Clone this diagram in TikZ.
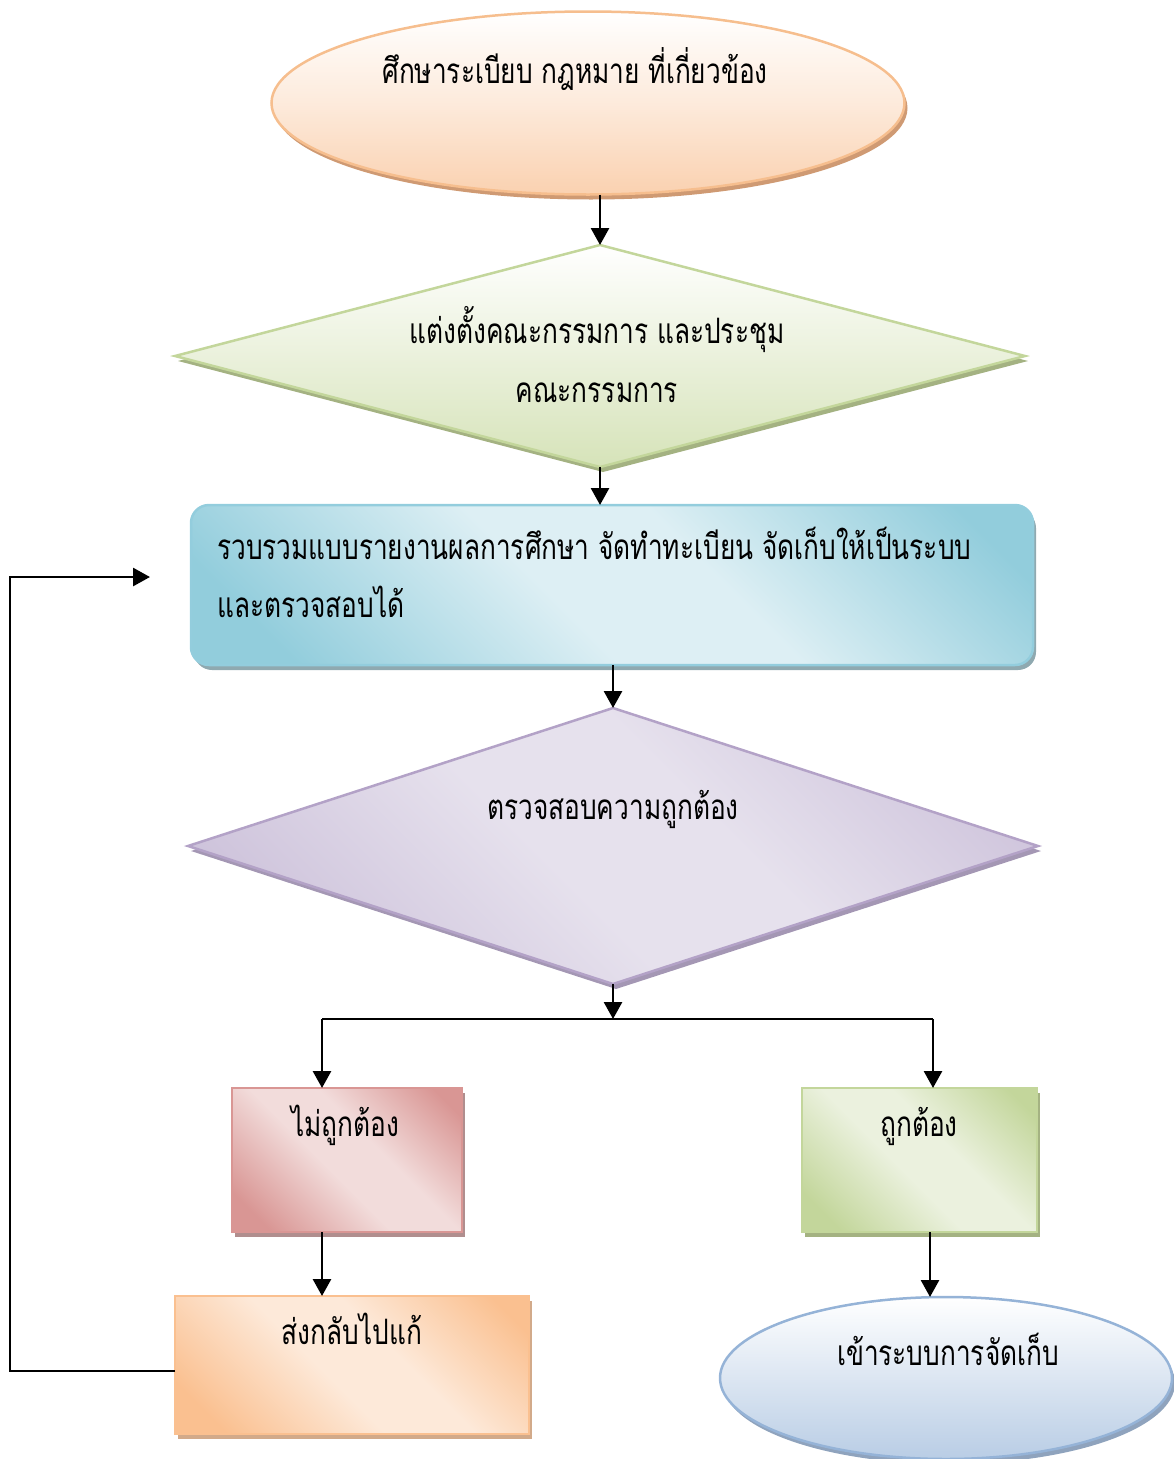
\documentclass[tikz,border=0pt]{standalone}
\usepackage{fontspec}
\newfontfamily\thaifont[Script=Thai,FakeStretch=0.75]{Loma}
\usetikzlibrary{shapes.geometric,shadows,arrows.meta}

% palette
\definecolor{peachLine}{HTML}{F6BE8E}
\definecolor{peachFill}{HTML}{FAD1B0}
\definecolor{peachShade}{HTML}{CF9A73}
\definecolor{greenLine}{HTML}{C3D69B}
\definecolor{greenFill}{HTML}{D6E3B9}
\definecolor{greenShade}{HTML}{A4B282}
\definecolor{blueLine}{HTML}{93CDDD}
\definecolor{blueDark}{HTML}{92CDDC}
\definecolor{blueLight}{HTML}{DDEFF4}
\definecolor{blueShade}{HTML}{8FA9B0}
\definecolor{purpleLine}{HTML}{B3A2C7}
\definecolor{purpleDark}{HTML}{CCC1DA}
\definecolor{purpleLight}{HTML}{E6E1ED}
\definecolor{purpleShade}{HTML}{A497B4}
\definecolor{pinkLine}{HTML}{D99694}
\definecolor{pinkDark}{HTML}{D99694}
\definecolor{pinkLight}{HTML}{F2DCDB}
\definecolor{pinkShade}{HTML}{B08E8E}
\definecolor{orangeLine}{HTML}{FAC090}
\definecolor{orangeDark}{HTML}{FAC090}
\definecolor{orangeLight}{HTML}{FDE9D9}
\definecolor{orangeShade}{HTML}{D2AA8A}
\definecolor{limeDark}{HTML}{C3D69B}
\definecolor{limeLight}{HTML}{EBF1DE}
\definecolor{skyLine}{HTML}{95B3D7}
\definecolor{skyFill}{HTML}{B9CDE5}
\definecolor{skyShade}{HTML}{8FA3BD}

% diagonal bands: dark corners, soft light middle
\pgfdeclarehorizontalshading{bluediag}{100bp}{color(0bp)=(blueDark); color(22bp)=(blueDark); color(45bp)=(blueLight); color(58bp)=(blueLight); color(80bp)=(blueDark); color(100bp)=(blueDark)}
\pgfdeclarehorizontalshading{purplediag}{100bp}{color(0bp)=(purpleDark); color(22bp)=(purpleDark); color(45bp)=(purpleLight); color(58bp)=(purpleLight); color(80bp)=(purpleDark); color(100bp)=(purpleDark)}
\pgfdeclarehorizontalshading{pinkdiag}{100bp}{color(0bp)=(pinkDark); color(22bp)=(pinkDark); color(45bp)=(pinkLight); color(58bp)=(pinkLight); color(80bp)=(pinkDark); color(100bp)=(pinkDark)}
\pgfdeclarehorizontalshading{orangediag}{100bp}{color(0bp)=(orangeDark); color(22bp)=(orangeDark); color(45bp)=(orangeLight); color(58bp)=(orangeLight); color(80bp)=(orangeDark); color(100bp)=(orangeDark)}
\pgfdeclarehorizontalshading{limediag}{100bp}{color(0bp)=(limeDark); color(22bp)=(limeDark); color(45bp)=(limeLight); color(58bp)=(limeLight); color(80bp)=(limeDark); color(100bp)=(limeDark)}

\tikzset{
  shapebox/.style={inner sep=0pt, outer sep=0pt, line width=2.5pt},
  caption/.style={inner sep=0pt, font=\thaifont\fontsize{35}{40}\selectfont, text=black},
  arr/.style={line width=2.8pt, -{Triangle[width=18pt,length=17pt]}},
  link/.style={line width=2.8pt},
  shadowof/.style={drop shadow={shadow xshift=3pt, shadow yshift=-5pt, fill=#1, opacity=1}},
}

\begin{document}
\begin{tikzpicture}[x=1pt, y=-1pt]
\useasboundingbox (0,0) rectangle (1174,1459);

% start: study regulations
\node[shapebox, ellipse, minimum width=633pt, minimum height=183pt,
      draw=peachLine, top color=white, bottom color=peachFill, middle color=peachFill!45,
      shadowof=peachShade] (e1) at (588,103) {};
\node[caption, anchor=base] (t1) at (575,83) {ศึกษาระเบียบ กฎหมาย ที่เกี่ยวข้อง};

% committee decision
\node[shapebox, diamond, minimum width=850pt, minimum height=222pt,
      draw=greenLine, top color=white, bottom color=greenFill,
      shadowof=greenShade] (d1) at (600,356) {};
\node[caption, anchor=base] (t2a) at (597,343) {แต่งตั้งคณะกรรมการ และประชุม};
\node[caption, anchor=base] (t2b) at (597,402) {คณะกรรมการ};

% collect reports
\node[shapebox, rectangle, rounded corners=18pt, minimum width=842pt, minimum height=160pt,
      draw=blueLine, shading=bluediag, shading angle=45,
      shadowof=blueShade] (r1) at (612,585) {};
\node[caption, anchor=base west] (t3a) at (217,559) {รวบรวมแบบรายงานผลการศึกษา จัดทำทะเบียน จัดเก็บให้เป็นระบบ};
\node[caption, anchor=base west] (t3b) at (217,617) {และตรวจสอบได้};

% verification
\node[shapebox, diamond, minimum width=850pt, minimum height=276pt,
      draw=purpleLine, shading=purplediag, shading angle=45,
      shadowof=purpleShade] (d2) at (613,846) {};
\node[caption, anchor=base] (t4) at (613,819) {ตรวจสอบความถูกต้อง};

% incorrect branch
\node[shapebox, rectangle, minimum width=230pt, minimum height=144pt,
      draw=pinkLine, shading=pinkdiag, shading angle=45,
      shadowof=pinkShade] (b1) at (347,1160) {};
\node[caption, anchor=base] (t5) at (345,1136) {ไม่ถูกต้อง};

\node[shapebox, rectangle, minimum width=354pt, minimum height=138pt,
      draw=orangeLine, shading=orangediag, shading angle=45,
      shadowof=orangeShade] (b2) at (352,1365) {};
\node[caption, anchor=base] (t6) at (352,1344) {ส่งกลับไปแก้};

% correct branch
\node[shapebox, rectangle, minimum width=235pt, minimum height=144pt,
      draw=greenLine, shading=limediag, shading angle=45,
      shadowof=greenShade] (b3) at (919.5,1160) {};
\node[caption, anchor=base] (t7) at (919,1136) {ถูกต้อง};

\node[shapebox, ellipse, minimum width=452pt, minimum height=162pt,
      draw=skyLine, top color=white, bottom color=skyFill,
      shadowof=skyShade] (e2) at (946,1378) {};
\node[caption, anchor=base] (t8) at (948,1365) {เข้าระบบการจัดเก็บ};

% junction points
\coordinate (j) at (613,1019);
\coordinate (hl) at (322,1019);
\coordinate (hr) at (933,1019);
\coordinate (lft) at (10,0);
\coordinate (fb) at (150,577);

% connectors
\draw[arr] (d1.north |- e1.south) -- (d1.north);
\draw[arr] (d1.south) -- (d1.south |- r1.north);
\draw[arr] (d2.north |- r1.south) -- (d2.north);
\draw[arr] (d2.south) -- (j);
\draw[link] (hl) -- (hr);
\draw[arr] (hl) -- (hl |- b1.north);
\draw[arr] (hr) -- (hr |- b3.north);
\draw[arr] (hl |- b1.south) -- (hl |- b2.north);
\draw[arr] ([xshift=-3pt]hr |- b3.south) -- ([xshift=-3pt]hr |- e2.north);
\draw[arr] ([yshift=-6pt]b2.west) -- ([yshift=-6pt]lft |- b2.west) -- (lft |- fb) -- (fb);
\end{tikzpicture}
\end{document}
